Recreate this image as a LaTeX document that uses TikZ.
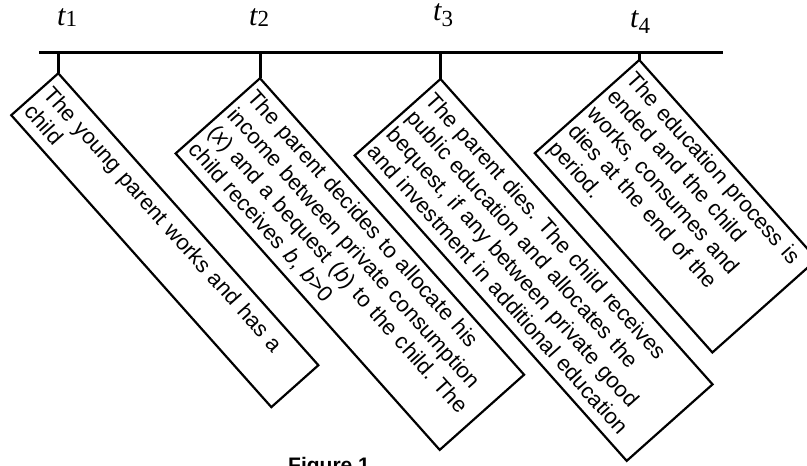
\documentclass[tikz,border=0pt]{standalone}
\usepackage{fontspec}
\setmainfont{Liberation Sans}
\newfontfamily\timesfont{Liberation Serif}

% time mark: italic t with a lowered digit
\newcommand{\tmark}[2]{{\timesfont\fontsize{30}{30}\selectfont\itshape t}%
  \raisebox{-#2pt}{\timesfont\fontsize{23}{23}\selectfont #1}}

\begin{document}
\frenchspacing
\begin{tikzpicture}[x=1pt, y=-1pt,
  event/.style={draw, line width=2.2pt, outer sep=0pt, anchor=north west,
    rotate=-48.3, align=left, inner xsep=6pt, inner ysep=0pt,
    font=\fontsize{22}{26}\selectfont},
  tick/.style={line width=3pt},
  tlab/.style={anchor=base west, inner sep=0pt}
]
  \useasboundingbox (0,0) rectangle (807,466);

  % time axis
  \coordinate (ax0) at (39,52);
  \coordinate (ax1) at (723,52);
  \draw[tick] (ax0) -- (ax1);

  % time marks
  \node[tlab] (t1) at (57,25) {\tmark{1}{1.5}};
  \node[tlab] (t2) at (249,25) {\tmark{2}{1.5}};
  \node[tlab] (t3) at (433,20) {\tmark{3}{6.5}};
  \node[tlab] (t4) at (630,27) {\tmark{4}{6}};

  % events
  \node[event, text width=379pt, minimum height=63pt] (e1) at (58.3,73.3)
    {The young parent works and has a\\child};
  \node[event, text width=385pt, minimum height=113pt] (e2) at (260,78.3)
    {The parent decides to allocate his\\income between private consumption\\
     (\textit{x}) and a bequest (\textit{b}) to the child. The\\
     child receives \textit{b}, \textit{b}>0};
  \node[event, text width=397pt, minimum height=115pt] (e3) at (440.5,79)
    {The parent dies. The child receives\\public education and allocates the\\
     bequest, if any between private good\\and investment in additional education};
  \node[event, text width=255pt, minimum height=140pt] (e4) at (639.3,60)
    {The education process is\\ended and the child\\works, consumes and\\
     dies at the end of the\\period.};

  % ticks down to the events
  \draw[tick] (e1.north west |- ax0) -- (e1.north west);
  \draw[tick] (e2.north west |- ax0) -- (e2.north west);
  \draw[tick] (e3.north west |- ax0) -- (e3.north west);
  \draw[tick] (e4.north west |- ax0) -- (e4.north west);

  \node[anchor=base west, inner sep=0pt,
    font=\bfseries\fontsize{21}{21}\selectfont] (fig) at (288,472) {Figure 1};
\end{tikzpicture}
\end{document}
